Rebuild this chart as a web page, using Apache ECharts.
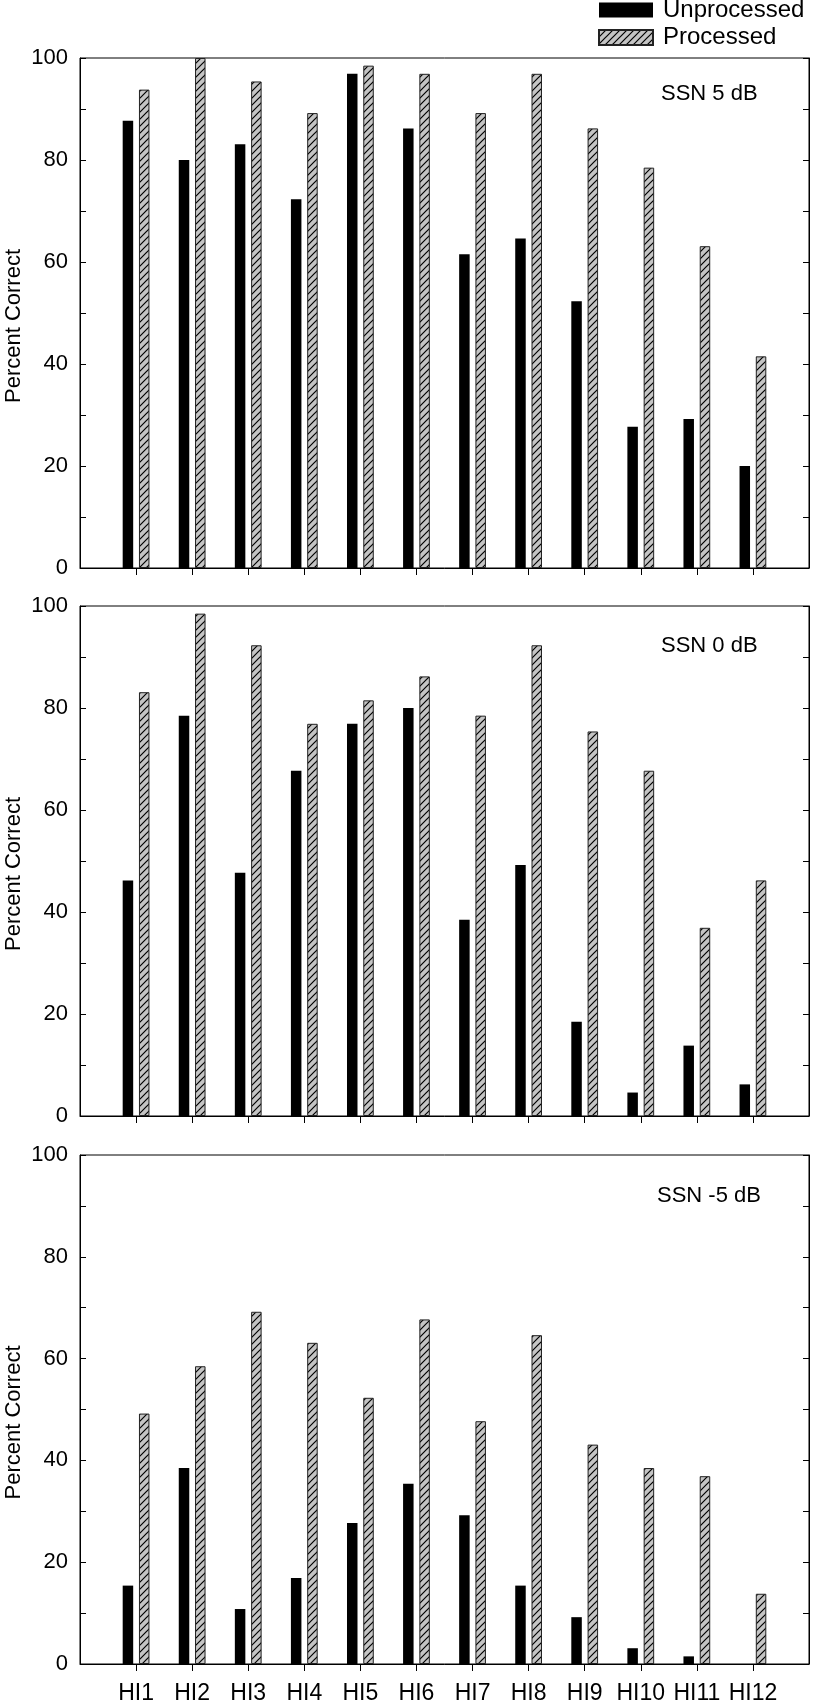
<!DOCTYPE html>
<html>
<head>
<meta charset="utf-8">
<script src="https://cdn.jsdelivr.net/npm/echarts@6/dist/echarts.min.js"></script>
<style>
  html, body { margin: 0; padding: 0; background: #fff; }
  #chart { width: 813px; height: 1705px; }
</style>
</head>
<body>
<div id="chart"></div>
<script>
// ---- data ----
const categories = ['HI1', 'HI2', 'HI3', 'HI4', 'HI5', 'HI6', 'HI7', 'HI8', 'HI9', 'HI10', 'HI11', 'HI12'];
const seriesNames = ['Unprocessed', 'Processed'];
const panelLabels = ['SSN 5 dB', 'SSN 0 dB', 'SSN -5 dB'];
const yTicks = [0, 20, 40, 60, 80, 100];

const unprocessed5 = [87.7, 80.0, 83.1, 72.3, 96.9, 86.2, 61.5, 64.6, 52.3, 27.7, 29.2, 20.0];
const processed5   = [93.8, 100.0, 95.4, 89.2, 98.5, 96.9, 89.2, 96.9, 86.2, 78.5, 63.1, 41.5];
const unprocessed0 = [46.2, 78.5, 47.7, 67.7, 76.9, 80.0, 38.5, 49.2, 18.5, 4.6, 13.8, 6.2];
const processed0   = [83.1, 98.5, 92.3, 76.9, 81.5, 86.2, 78.5, 92.3, 75.4, 67.7, 36.9, 46.2];
const unprocessedM5 = [15.4, 38.5, 10.8, 16.9, 27.7, 35.4, 29.2, 15.4, 9.2, 3.1, 1.5, 0];
const processedM5   = [49.2, 58.5, 69.2, 63.1, 52.3, 67.7, 47.7, 64.6, 43.1, 38.5, 36.9, 13.8];

const panels = [
  { label: panelLabels[0], unp: unprocessed5, pro: processed5 },
  { label: panelLabels[1], unp: unprocessed0, pro: processed0 },
  { label: panelLabels[2], unp: unprocessedM5, pro: processedM5 }
];

// ---- styling / layout ----
const FONT = '"Liberation Sans", Arial, Helvetica, sans-serif';
const gridTops = [58, 606, 1155];
const gridHeights = [510, 510, 509];
const labelPos = [{ left: 661, top: 83 }, { left: 661, top: 635 }, { left: 657, top: 1185 }];

// hatch pattern
const tile = document.createElement('canvas');
tile.width = 7; tile.height = 7;
const g = tile.getContext('2d');
g.fillStyle = '#c4c4c4';
g.fillRect(0, 0, 7, 7);
g.strokeStyle = '#000';
g.lineWidth = 1.2;
g.beginPath();
g.moveTo(-1, 8); g.lineTo(8, -1);
g.moveTo(-1, 1); g.lineTo(1, -1);
g.moveTo(6, 8); g.lineTo(8, 6);
g.stroke();
const hatch = { image: tile, repeat: 'repeat' };

const axisCats = [''].concat(categories, ['']);
const pad = arr => [null].concat(arr, [null]);

const grids = [], xAxes = [], yAxes = [], series = [], titles = [];
panels.forEach((p, i) => {
  grids.push({
    left: 80, width: 729, top: gridTops[i], height: gridHeights[i],
    containLabel: false, outerBoundsMode: 'none',
    show: true, borderColor: '#000', borderWidth: 1, backgroundColor: 'transparent'
  });
  xAxes.push({
    type: 'category', gridIndex: i, data: axisCats, boundaryGap: false,
    axisLine: { show: true, lineStyle: { color: '#000', width: 1 } },
    axisTick: { show: true, inside: false, length: 7, lineStyle: { color: '#000', width: 1 },
                interval: (idx, v) => v !== '' },
    axisLabel: { show: i === 2, interval: 0, color: '#000', fontSize: 23, fontFamily: FONT, margin: 18 },
    splitLine: { show: false }
  });
  yAxes.push({
    type: 'value', gridIndex: i, min: 0, max: 100, interval: 10, position: 'left',
    name: 'Percent Correct', nameLocation: 'middle', nameGap: 55, nameMoveOverlap: false,
    nameTextStyle: { color: '#000', fontSize: 22, fontFamily: FONT, padding: [0, 26, 0, 0] },
    axisLine: { show: true, lineStyle: { color: '#000', width: 1 } },
    axisTick: { show: true, inside: true, length: 6, lineStyle: { color: '#000', width: 1 } },
    axisLabel: {
      color: '#000', fontSize: 22, fontFamily: FONT, margin: 12, showMinLabel: true, showMaxLabel: true,
      formatter: v => (yTicks.indexOf(v) >= 0 ? String(v) : '')
    },
    splitLine: { show: false }
  });
  yAxes.push({
    type: 'value', gridIndex: i, min: 0, max: 100, interval: 10, position: 'right',
    axisLine: { show: true, lineStyle: { color: '#000', width: 1 } },
    axisTick: { show: true, inside: true, length: 6, lineStyle: { color: '#000', width: 1 } },
    axisLabel: { show: false },
    splitLine: { show: false }
  });
  series.push({
    name: seriesNames[0], type: 'bar', xAxisIndex: i, yAxisIndex: 2 * i,
    data: pad(p.unp), barWidth: 10.5, barGap: '55%',
    itemStyle: { color: '#000', borderWidth: 0 },
    emphasis: { disabled: true }, animation: false
  });
  series.push({
    name: seriesNames[1], type: 'bar', xAxisIndex: i, yAxisIndex: 2 * i,
    data: pad(p.pro), barWidth: 10.5, barGap: '55%',
    itemStyle: { color: hatch, borderColor: '#222', borderWidth: 1 },
    emphasis: { disabled: true }, animation: false
  });
  titles.push({
    text: p.label, left: labelPos[i].left, top: labelPos[i].top, padding: 0,
    textStyle: { color: '#000', fontSize: 22, fontWeight: 'normal', fontFamily: FONT }
  });
});

const chart = echarts.init(document.getElementById('chart'), null, { renderer: 'canvas' });
chart.setOption({
  backgroundColor: '#fff',
  animation: false,
  title: titles,
  legend: {
    data: seriesNames, orient: 'vertical', left: 598, top: -2, padding: 0,
    itemWidth: 54, itemHeight: 15, itemGap: 3.5, icon: 'rect',
    textStyle: { color: '#000', fontSize: 24, fontFamily: FONT, padding: [0, 0, 0, 5] },
    selectedMode: false
  },
  grid: grids,
  xAxis: xAxes,
  yAxis: yAxes,
  series: series
});
</script>
</body>
</html>
